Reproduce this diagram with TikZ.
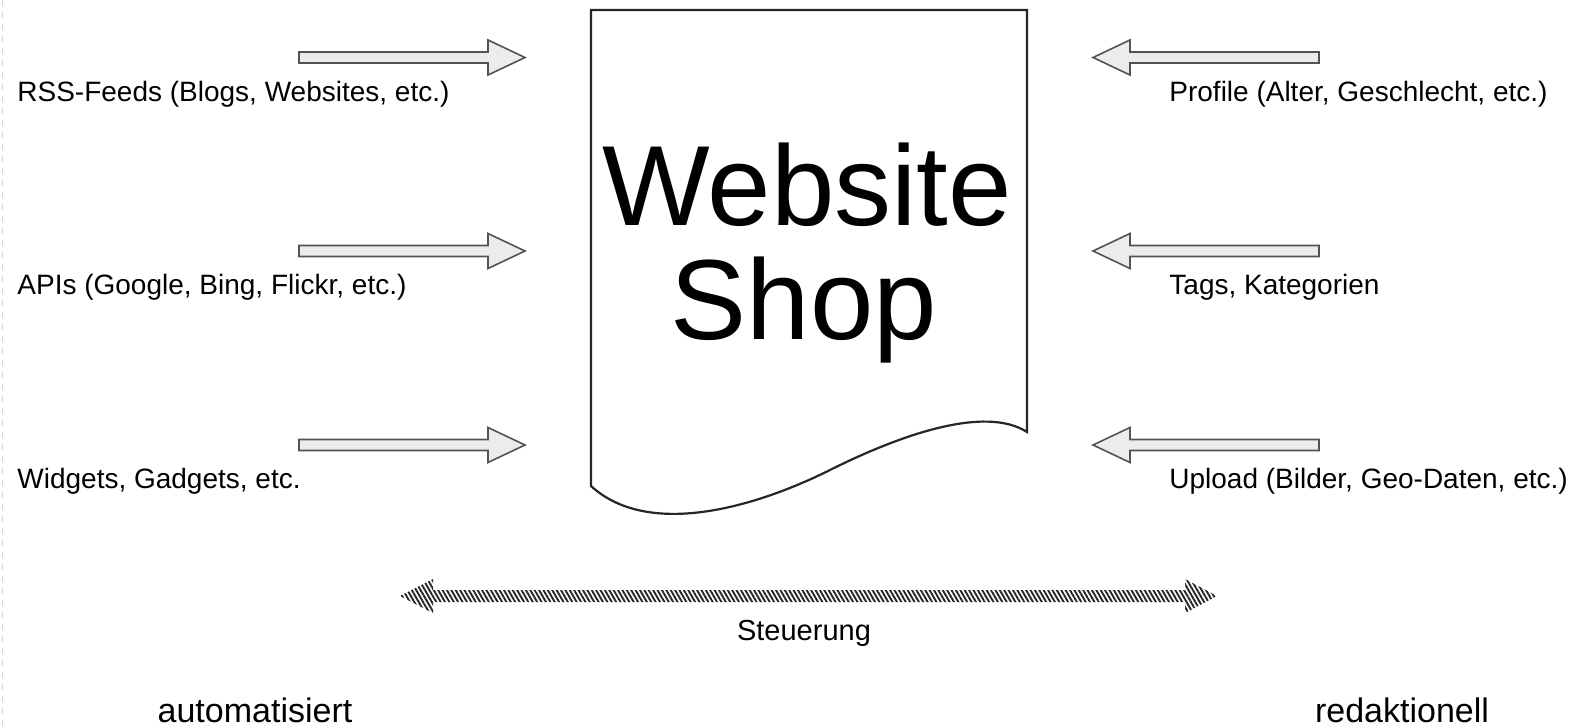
\documentclass[tikz,border=0pt]{standalone}
\usepackage{fontspec}
\setmainfont{Liberation Sans}
\usetikzlibrary{patterns.meta}
\begin{document}
\begin{tikzpicture}[x=0.5pt,y=-0.5pt,
  blockarrow/.style={fill=gray!15, draw=gray!65!black, line width=0.8pt, line join=miter},
  hatcharrow/.style={pattern={Lines[angle=-60,distance=1.9pt,line width=0.95pt]}, pattern color=black!85},
  doc/.style={draw=black!85, line width=1.1pt, fill=white},
  sidelabel/.style={anchor=base west, inner sep=0pt, font=\fontsize{14}{16}\selectfont},
  biglabel/.style={anchor=base, inner sep=0pt, font=\fontsize{57}{60}\selectfont},
  bottomlabel/.style={anchor=base, inner sep=0pt, font=\fontsize{17}{20}\selectfont},
  steerlabel/.style={anchor=base, inner sep=0pt, font=\fontsize{14.5}{16}\selectfont}]
\useasboundingbox (0,0) rectangle (1581,728);
\fill[white] (0,0) rectangle (1581,728);
\draw[gray!35, dashed, line width=0.5pt] (2,0) -- (2,728);

% document shape
\coordinate (dtl) at (591,10);
\coordinate (dtr) at (1027,10);
\coordinate (dbr) at (1027,432);
\coordinate (dbm) at (830,470);
\coordinate (dbl) at (591,486);
\draw[doc] (dbl) -- (dtl) -- (dtr) -- (dbr)
  .. controls (985,405) and (900,435) .. (dbm)
  .. controls (760,505) and (650,540) .. (dbl) -- cycle;
\node[biglabel] (web) at (807,225) {Website};
\node[biglabel] (shop) at (804,339) {Shop};

% left block arrows
\foreach \n/\y in {a/57.5,b/251,c/445}{
  \coordinate (L\n) at (299,\y);
  \draw[blockarrow] (L\n) ++(0,-5.5) -- ++(189,0) -- ++(0,-12) -- ++(37,17.5)
     -- ++(-37,17.5) -- ++(0,-12) -- ++(-189,0) -- cycle;
}
% right block arrows
\foreach \n/\y in {a/57.5,b/251,c/445}{
  \coordinate (R\n) at (1319,\y);
  \draw[blockarrow] (R\n) ++(0,-5.5) -- ++(-189,0) -- ++(0,-12) -- ++(-37,17.5)
     -- ++(37,17.5) -- ++(0,-12) -- ++(189,0) -- cycle;
}

\node[sidelabel] (rss) at (17,101) {RSS-Feeds (Blogs, Websites, etc.)};
\node[sidelabel] (api) at (17,294.5) {APIs (Google, Bing, Flickr, etc.)};
\node[sidelabel] (wid) at (17,488) {Widgets, Gadgets, etc.};
\node[sidelabel] (prof) at (1169,101) {Profile (Alter, Geschlecht, etc.)};
\node[sidelabel] (tags) at (1169,294.5) {Tags, Kategorien};
\node[sidelabel] (upl) at (1169,488) {Upload (Bilder, Geo-Daten, etc.)};

% hatched double arrow
\coordinate (hl) at (400,596);
\coordinate (hr) at (1217,596);
\fill[hatcharrow] (hl) -- ++(33,-17) -- ++(0,11) -- ++(752,0) -- ++(0,-11) -- (hr)
  -- ++(-32,17) -- ++(0,-11) -- ++(-752,0) -- ++(0,11) -- cycle;

\node[steerlabel] (st) at (804,640) {Steuerung};
\node[bottomlabel] (auto) at (255,722) {automatisiert};
\node[bottomlabel] (red) at (1402,722) {redaktionell};
\end{tikzpicture}
\end{document}
